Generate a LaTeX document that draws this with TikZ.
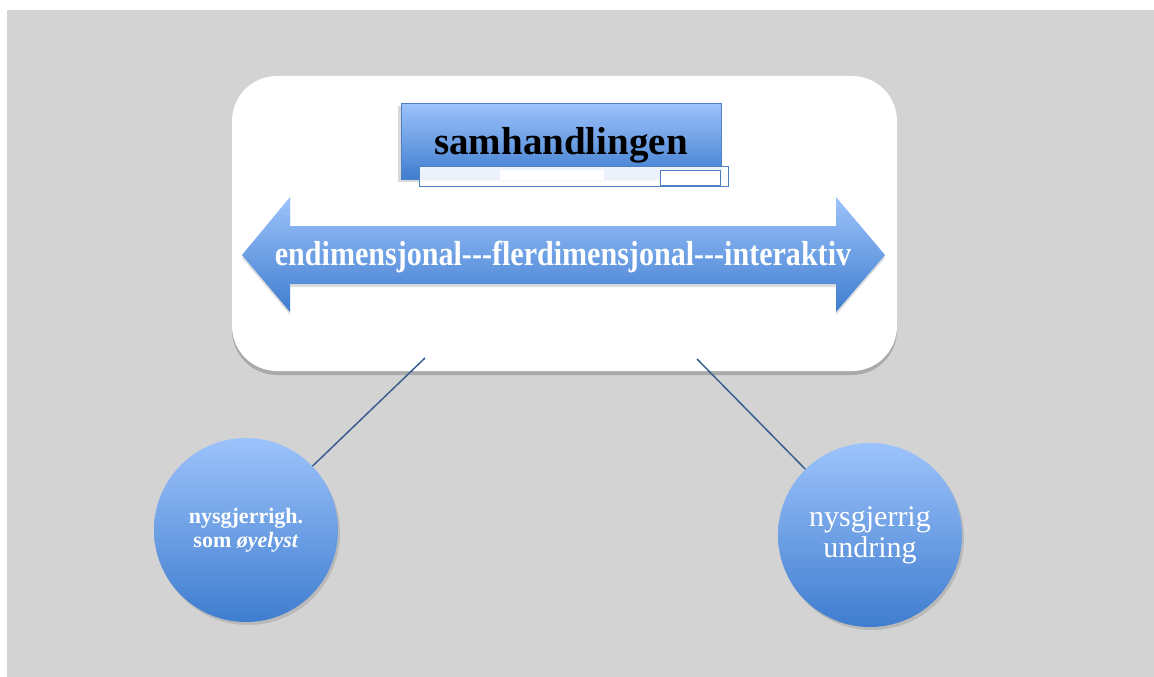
\documentclass[tikz,border=0pt]{standalone}
\usepackage{fontspec}
\setmainfont{Liberation Serif}
\usetikzlibrary{shadows}
\definecolor{bg}{HTML}{D3D3D3}
\definecolor{blueTop}{HTML}{9DC3FB}
\definecolor{blueBot}{HTML}{3F7DCF}
\definecolor{linkblue}{HTML}{3A5F8F}
\definecolor{frameblue}{HTML}{4F7FC4}
\tikzset{
  panel/.style={fill=white, rounded corners=45pt,
    drop shadow={shadow xshift=0pt, shadow yshift=-4pt, opacity=0.3, fill=black!70}},
  bluefill/.style={shading=axis, top color=blueTop, bottom color=blueBot},
  titlebox/.style={bluefill, draw=frameblue, line width=0.6pt,
    drop shadow={shadow xshift=-3pt, shadow yshift=-3pt, opacity=0.3}},
  bubble/.style={circle, bluefill, minimum size=184pt, inner sep=0pt,
    drop shadow={shadow xshift=2pt, shadow yshift=-3pt, opacity=0.3},
    text=white, align=center},
  link/.style={draw=linkblue, line width=1.5pt},
}
\begin{document}
\begin{tikzpicture}[x=1pt,y=-1pt]
\useasboundingbox (0,0) rectangle (1154,677);
\fill[bg] (7,10) rectangle (1154,677);
% white panel
\path[panel] (232,76) rectangle (897,371);
% title box
\path[titlebox] (401,103) rectangle (721,179);
\node[font=\fontsize{39}{40}\selectfont\bfseries, text=black] (title) at (561,145) {samhandlingen};
% overlay strip
\draw[frameblue, fill=white, fill opacity=0.9, line width=0.6pt] (419,166) rectangle (728,186);
\draw[frameblue, fill=white, line width=0.6pt] (660,170) rectangle (720,185);
\fill[white] (500,170) rectangle (604,180);
% double arrow
\path[bluefill, drop shadow={shadow xshift=0pt, shadow yshift=-3pt, opacity=0.25}]
  (242,255) -- (290,197) -- (290,226) -- (836,226) -- (836,197) -- (885,255)
  -- (836,312) -- (836,284) -- (290,284) -- (290,312) -- cycle;
\node[font=\fontsize{31}{32}\selectfont\bfseries, text=white] (scale) at (563,257)
  {\scalebox{0.97}[1.12]{endimensjonal-{}-{}-flerdimensjonal-{}-{}-interaktiv}};
% bubbles
\node[bubble, font=\fontsize{22}{24}\selectfont\bfseries] (left) at (246,530)
  {\raisebox{-4pt}{\parbox{150pt}{\centering nysgjerrigh.\\som \textit{øyelyst}}}};
\node[bubble, font=\fontsize{30}{31}\selectfont] (right) at (870,535)
  {nysgjerrig\\undring};
% connectors
\coordinate (la) at (425,358);
\coordinate (ra) at (697,359);
\draw[link] (la) -- (left);
\draw[link] (ra) -- (right);
\end{tikzpicture}
\end{document}
